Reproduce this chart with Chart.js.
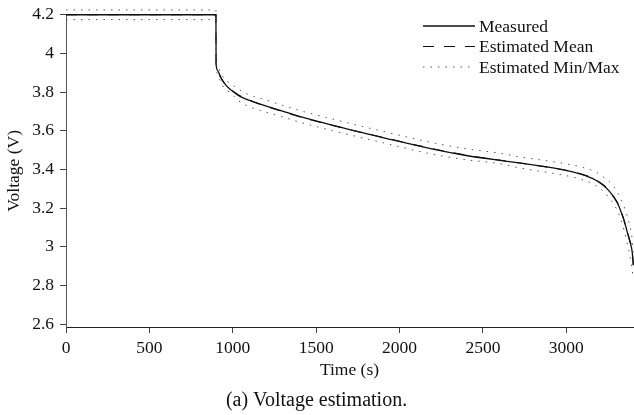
<!DOCTYPE html>
<html lang="en">
<head>
  <meta charset="UTF-8" />
  <title>Voltage estimation</title>
  <style>
    html, body { margin: 0; padding: 0; background: #fff; }
    #wrap { width: 634px; height: 415px; }
  </style>
</head>
<body>
  <div id="wrap"><canvas id="voltChart" width="634" height="415"></canvas></div>

<script src="https://cdn.jsdelivr.net/npm/chart.js"></script>
<script>
// sample times (s) and voltages (V)
const times = [0, 899, 900, 910, 925, 950, 985, 1035, 1100, 1165, 1285, 1400, 1600, 1900, 2200, 2400, 2600, 2720, 2920, 3050, 3120, 3180, 3225, 3260, 3285, 3310, 3325, 3345, 3365, 3380, 3395, 3402];
const measured = [4.2, 4.2, 3.95, 3.91, 3.88, 3.845, 3.814, 3.782, 3.757, 3.738, 3.705, 3.674, 3.628, 3.565, 3.505, 3.472, 3.447, 3.434, 3.408, 3.385, 3.366, 3.343, 3.315, 3.285, 3.256, 3.22, 3.188, 3.14, 3.078, 3.03, 2.975, 2.905];
const estMean = [4.2, 4.2, 3.952, 3.913, 3.882, 3.846, 3.816, 3.785, 3.758, 3.736, 3.703, 3.672, 3.627, 3.566, 3.507, 3.474, 3.448, 3.433, 3.407, 3.386, 3.368, 3.345, 3.318, 3.288, 3.258, 3.222, 3.19, 3.142, 3.08, 3.035, 2.98, 2.9];
const estMax = [4.225, 4.225, 3.97, 3.935, 3.905, 3.868, 3.845, 3.815, 3.785, 3.768, 3.735, 3.705, 3.66, 3.597, 3.538, 3.507, 3.484, 3.465, 3.44, 3.42, 3.405, 3.385, 3.36, 3.335, 3.31, 3.275, 3.25, 3.21, 3.16, 3.11, 3.04, 2.96];
const estMin = [4.175, 4.175, 3.93, 3.895, 3.856, 3.82, 3.797, 3.755, 3.724, 3.705, 3.675, 3.645, 3.6, 3.538, 3.478, 3.45, 3.43, 3.408, 3.38, 3.358, 3.34, 3.315, 3.285, 3.25, 3.22, 3.18, 3.145, 3.09, 3.02, 2.96, 2.88, 2.83];

const xTicks = [0, 500, 1000, 1500, 2000, 2500, 3000];
const yTicks = [2.6, 2.8, 3.0, 3.2, 3.4, 3.6, 3.8, 4.0, 4.2];

const SERIF = "'Liberation Serif', 'Times New Roman', serif";

function pts(values) {
  return times.map((t, i) => ({ x: t, y: values[i] }));
}

// legend drawn inside the plot, top right
const insideLegend = {
  id: 'insideLegend',
  afterDraw(chart) {
    const ctx = chart.ctx;
    const rows = chart.data.datasets.filter(ds => ds.legendRow !== undefined);
    ctx.save();
    ctx.font = "17.5px " + SERIF;
    ctx.textBaseline = 'middle';
    rows.forEach(ds => {
      const y = 26 + ds.legendRow * 20.5;
      ctx.strokeStyle = ds.borderColor;
      ctx.lineWidth = ds.borderWidth;
      ctx.setLineDash(ds.borderDash || []);
      ctx.beginPath();
      ctx.moveTo(423, y);
      ctx.lineTo(475, y);
      ctx.stroke();
      ctx.setLineDash([]);
      ctx.fillStyle = '#111';
      ctx.fillText(ds.label, 479, y + 1);
    });
    ctx.restore();
  }
};

new Chart(document.getElementById('voltChart'), {
  type: 'line',
  data: {
    datasets: [
      { label: 'Estimated Min/Max', data: pts(estMin), borderColor: '#555', borderWidth: 1, borderDash: [1.5, 6], legendRow: 2 },
      { label: 'Estimated Max', data: pts(estMax), borderColor: '#555', borderWidth: 1, borderDash: [1.5, 6] },
      { label: 'Estimated Mean', data: pts(estMean), borderColor: '#111', borderWidth: 1.1, borderDash: [11, 10], legendRow: 1 },
      { label: 'Measured', data: pts(measured), borderColor: '#111', borderWidth: 1.3, legendRow: 0 }
    ]
  },
  options: {
    responsive: false,
    animation: false,
    layout: { padding: { top: 9, right: 1, left: 0, bottom: 0 } },
    elements: {
      point: { radius: 0 },
      line: { tension: 0, cubicInterpolationMode: 'monotone', fill: false }
    },
    datasets: { line: { clip: 12 } },
    scales: {
      x: {
        type: 'linear',
        min: 0,
        max: 3400,
        afterBuildTicks: axis => { axis.ticks = xTicks.map(v => ({ value: v })); },
        afterFit: axis => { axis.height = 58; },
        grid: { drawOnChartArea: false, tickLength: 6, color: '#444' },
        border: { color: '#222', width: 1 },
        ticks: {
          padding: 7,
          color: '#111',
          maxRotation: 0,
          font: { family: SERIF, size: 17.5, lineHeight: 1 },
          callback: v => String(v)
        },
        title: {
          display: true,
          text: 'Time (s)',
          color: '#111',
          padding: { top: 0, bottom: 4 },
          font: { family: SERIF, size: 17.5 }
        }
      },
      y: {
        min: 2.585,
        max: 4.2,
        afterBuildTicks: axis => { axis.ticks = yTicks.map(v => ({ value: v })); },
        afterFit: axis => { axis.width = 66; },
        grid: { drawOnChartArea: false, tickLength: 6, color: '#444' },
        border: { color: '#555', width: 1 },
        ticks: {
          padding: 6,
          color: '#111',
          font: { family: SERIF, size: 17.5, lineHeight: 1 },
          callback: v => String(+Number(v).toFixed(1))
        },
        title: {
          display: true,
          text: 'Voltage (V)',
          color: '#111',
          padding: { top: 4, bottom: 0 },
          font: { family: SERIF, size: 17.5 }
        }
      }
    },
    plugins: {
      legend: { display: false },
      tooltip: { enabled: false },
      title: {
        display: true,
        position: 'bottom',
        text: '(a) Voltage estimation.',
        color: '#111',
        padding: { top: 4, bottom: 2 },
        font: { family: SERIF, size: 20, weight: 'normal' }
      }
    }
  },
  plugins: [insideLegend]
});
</script>
</body>
</html>
